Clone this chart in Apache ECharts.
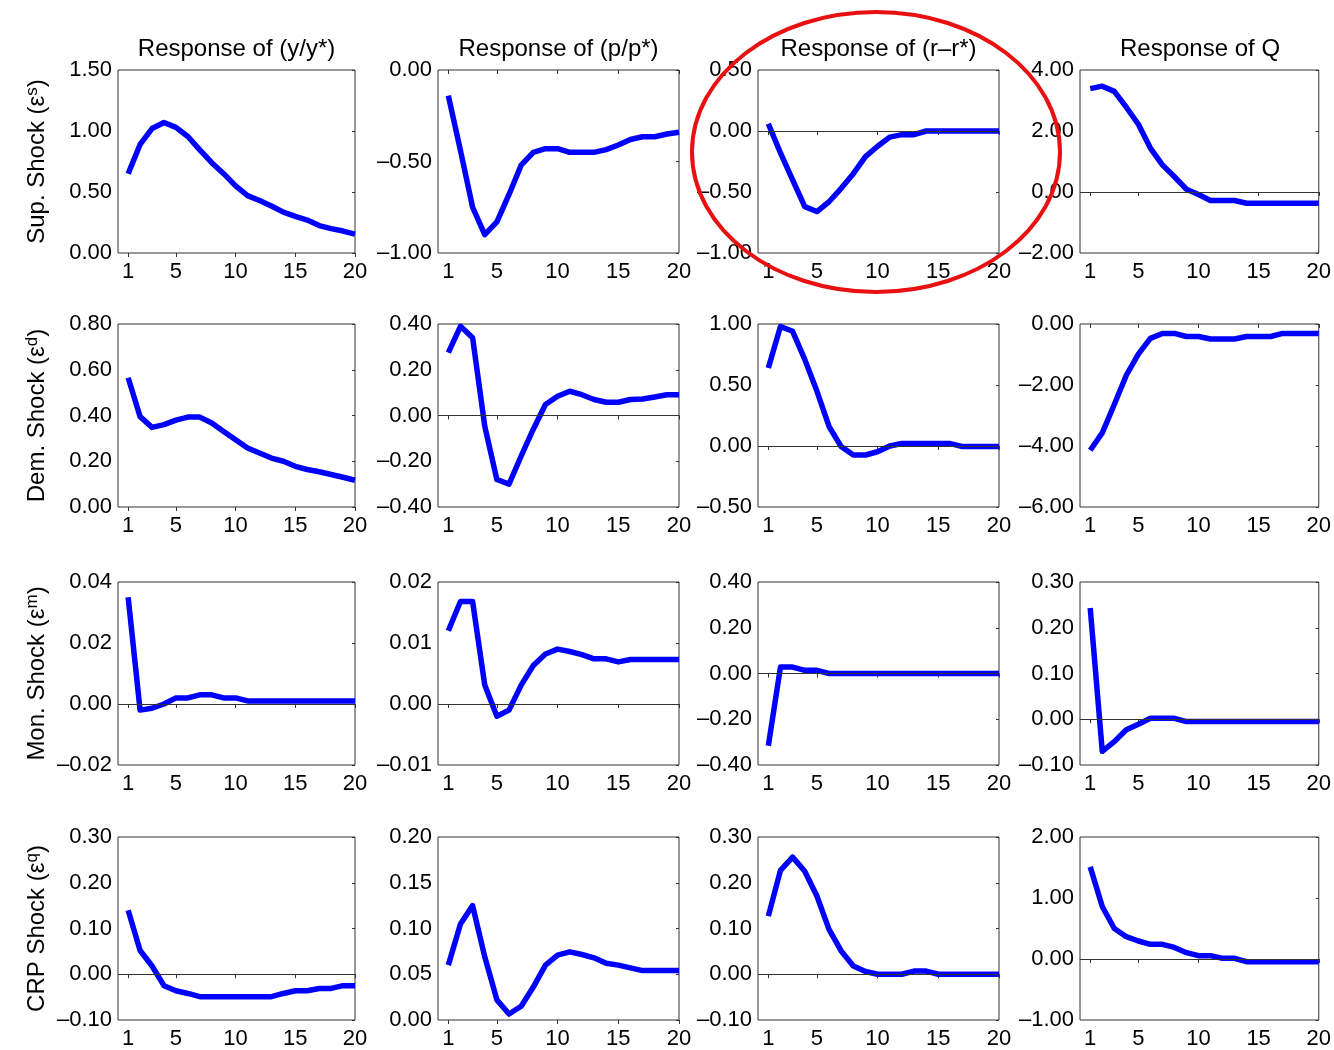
<!DOCTYPE html>
<html><head><meta charset="utf-8">
<script src="https://cdn.jsdelivr.net/npm/echarts@6/dist/echarts.min.js"></script>
<style>html,body{margin:0;padding:0;background:#fff}#c{width:1334px;height:1050px}</style>
</head><body><div id="c"></div>
<script>
// ---------- data ----------
const periods = [1,2,3,4,5,6,7,8,9,10,11,12,13,14,15,16,17,18,19,20];
const xTickValues = [1,5,10,15,20];
const responseTitles = ['Response of (y/y*)','Response of (p/p*)','Response of (r\u2013r*)','Response of Q'];
const shockNames = ['Sup. Shock','Dem. Shock','Mon. Shock','CRP Shock'];
const shockSymbols = ['s','d','m','q'];

// y-axis scales, one array per shock row: [y, p, r, Q]
const supAxisMin = [0, -1, -1, -2],       supAxisMax = [1.5, 0, 0.5, 4],   supAxisStep = [0.5, 0.5, 0.5, 2];
const demAxisMin = [0, -0.4, -0.5, -6],   demAxisMax = [0.8, 0.4, 1, 0],   demAxisStep = [0.2, 0.2, 0.5, 2];
const monAxisMin = [-0.02, -0.01, -0.4, -0.1], monAxisMax = [0.04, 0.02, 0.4, 0.3], monAxisStep = [0.02, 0.01, 0.2, 0.1];
const crpAxisMin = [-0.1, 0, -0.1, -1],   crpAxisMax = [0.3, 0.2, 0.3, 2], crpAxisStep = [0.1, 0.05, 0.1, 1];

// impulse responses
const supShockY = [0.65,0.89,1.02,1.07,1.03,0.955,0.845,0.74,0.65,0.55,0.47,0.43,0.385,0.335,0.30,0.27,0.225,0.20,0.18,0.155];
const supShockP = [-0.14,-0.44,-0.75,-0.90,-0.83,-0.68,-0.52,-0.45,-0.43,-0.43,-0.45,-0.45,-0.45,-0.435,-0.41,-0.38,-0.365,-0.365,-0.35,-0.34];
const supShockR = [0.06,-0.18,-0.40,-0.62,-0.66,-0.58,-0.47,-0.35,-0.21,-0.125,-0.05,-0.03,-0.03,0,0,0,0,0,0,0];
const supShockQ = [3.39,3.47,3.30,2.78,2.22,1.44,0.89,0.50,0.09,-0.08,-0.28,-0.28,-0.28,-0.37,-0.37,-0.37,-0.37,-0.37,-0.37,-0.37];

const demShockY = [0.565,0.395,0.348,0.36,0.38,0.393,0.393,0.367,0.33,0.294,0.258,0.236,0.214,0.20,0.178,0.164,0.154,0.142,0.13,0.117];
const demShockP = [0.275,0.39,0.34,-0.046,-0.28,-0.30,-0.177,-0.06,0.048,0.084,0.106,0.091,0.07,0.058,0.058,0.07,0.072,0.081,0.091,0.091];
const demShockR = [0.64,0.98,0.94,0.71,0.45,0.16,-0.005,-0.074,-0.074,-0.047,0,0.02,0.02,0.02,0.02,0.02,-0.005,-0.005,-0.005,-0.005];
const demShockQ = [-4.14,-3.57,-2.64,-1.68,-0.99,-0.47,-0.31,-0.31,-0.41,-0.41,-0.49,-0.49,-0.49,-0.41,-0.41,-0.41,-0.31,-0.31,-0.31,-0.31];

const monShockY = [0.035,-0.002,-0.0014,0,0.002,0.002,0.003,0.003,0.002,0.002,0.001,0.001,0.001,0.001,0.001,0.001,0.001,0.001,0.001,0.001];
const monShockP = [0.012,0.0168,0.0168,0.0031,-0.002,-0.001,0.0031,0.0063,0.0082,0.009,0.0086,0.0081,0.0074,0.0074,0.0069,0.0073,0.0073,0.0073,0.0073,0.0073];
const monShockR = [-0.316,0.028,0.028,0.014,0.014,0,0,0,0,0,0,0,0,0,0,0,0,0,0,0];
const monShockQ = [0.243,-0.07,-0.049,-0.023,-0.011,0.002,0.002,0.002,-0.005,-0.005,-0.005,-0.005,-0.005,-0.005,-0.005,-0.005,-0.005,-0.005,-0.005,-0.005];

const crpShockY = [0.14,0.052,0.018,-0.025,-0.036,-0.042,-0.049,-0.049,-0.049,-0.049,-0.049,-0.049,-0.049,-0.042,-0.036,-0.036,-0.031,-0.031,-0.025,-0.025];
const crpShockP = [0.06,0.105,0.125,0.069,0.022,0.0065,0.015,0.036,0.06,0.071,0.0745,0.0716,0.068,0.062,0.06,0.057,0.054,0.054,0.054,0.054];
const crpShockR = [0.127,0.227,0.256,0.225,0.171,0.098,0.051,0.018,0.006,0,0,0,0.007,0.007,0,0,0,0,0,0];
const crpShockQ = [1.51,0.86,0.50,0.366,0.295,0.24,0.24,0.19,0.104,0.055,0.055,0.011,0.011,-0.044,-0.044,-0.044,-0.044,-0.044,-0.044,-0.044];

// ---------- layout ----------
const colLeft = [118, 438, 758, 1080];
const colWidth = [237, 241, 241, 240];
const rowTop = [70, 324, 582, 837];
const rowHeight = 183;
const FONT = 'Liberation Sans';

const rowsData = [
  [supShockY, supShockP, supShockR, supShockQ],
  [demShockY, demShockP, demShockR, demShockQ],
  [monShockY, monShockP, monShockR, monShockQ],
  [crpShockY, crpShockP, crpShockR, crpShockQ]
];
const rowsMin = [supAxisMin, demAxisMin, monAxisMin, crpAxisMin];
const rowsMax = [supAxisMax, demAxisMax, monAxisMax, crpAxisMax];
const rowsStep = [supAxisStep, demAxisStep, monAxisStep, crpAxisStep];

function fmt(v) {
  const r = Math.round(v * 10000) / 10000;
  if (Math.abs(r) < 1e-9) return '0.00';
  return (r < 0 ? '\u2013' : '') + Math.abs(r).toFixed(2);
}

const grid = [], xAxis = [], yAxis = [], series = [], graphic = [];
let g = 0;
for (let r = 0; r < 4; r++) {
  for (let c = 0; c < 4; c++) {
    grid.push({left: colLeft[c], top: rowTop[r], width: colWidth[c], height: rowHeight,
      show: true, borderColor: '#333', borderWidth: 1, backgroundColor: 'transparent'});
    xAxis.push({type: 'value', gridIndex: g, min: 0.15, max: 20,
      axisLine: {show: false}, splitLine: {show: false},
      axisTick: {show: true, inside: false, length: 4, lineStyle: {color: '#333'}, customValues: xTickValues},
      axisLabel: {show: true, margin: 8, fontSize: 22, fontFamily: FONT, color: '#000', customValues: xTickValues,
        formatter: v => String(v)}});
    const mn = rowsMin[r][c], mx = rowsMax[r][c], st = rowsStep[r][c];
    yAxis.push({type: 'value', gridIndex: g, min: mn, max: mx, interval: st, position: 'left',
      axisLine: {show: false}, splitLine: {show: false}, axisTick: {show: false},
      axisLabel: {margin: 6, fontSize: 22, fontFamily: FONT, color: '#000', formatter: fmt}});
    yAxis.push({type: 'value', gridIndex: g, min: mn, max: mx, interval: st, position: 'right',
      axisLine: {show: false}, splitLine: {show: false}, axisLabel: {show: false},
      axisTick: {show: true, inside: true, length: 3, lineStyle: {color: '#333'}}});
    const s = {type: 'line', xAxisIndex: g, yAxisIndex: 2 * g,
      data: periods.map((p, i) => [p, rowsData[r][c][i]]),
      symbol: 'none', smooth: false, silent: true,
      lineStyle: {color: '#0000ff', width: 5.5, join: 'round'}, z: 3};
    if (mn < 0 && mx > 0) {
      s.markLine = {silent: true, symbol: 'none', label: {show: false}, animation: false,
        lineStyle: {color: '#333', width: 1, type: 'solid'}, emphasis: {disabled: true},
        data: [{yAxis: 0}]};
    }
    series.push(s);
    g++;
  }
}

for (let c = 0; c < 4; c++) {
  graphic.push({type: 'text', x: colLeft[c] + colWidth[c] / 2, y: 49,
    style: {text: responseTitles[c], fontSize: 24, fontFamily: FONT, fill: '#000',
      textAlign: 'center', textVerticalAlign: 'middle'}});
}
for (let r = 0; r < 4; r++) {
  graphic.push({type: 'text', x: 37, y: rowTop[r] + rowHeight / 2, rotation: Math.PI / 2,
    style: {text: shockNames[r] + ' (\u03b5{sup|' + shockSymbols[r] + '})',
      fontSize: 24, fontFamily: FONT, fill: '#000', lineHeight: 27,
      textAlign: 'center', textVerticalAlign: 'middle',
      rich: {sup: {fontSize: 17, fontFamily: FONT, fill: '#000', color: '#000', lineHeight: 27, verticalAlign: 'top'}}}});
}
graphic.push({type: 'ellipse', shape: {cx: 876, cy: 152, rx: 184, ry: 140},
  style: {fill: 'none', stroke: '#e81010', lineWidth: 4}, z: 100, silent: true});

const chart = echarts.init(document.getElementById('c'), null, {renderer: 'canvas'});
chart.setOption({animation: false, backgroundColor: '#fff', grid, xAxis, yAxis, series, graphic});
</script></body></html>
